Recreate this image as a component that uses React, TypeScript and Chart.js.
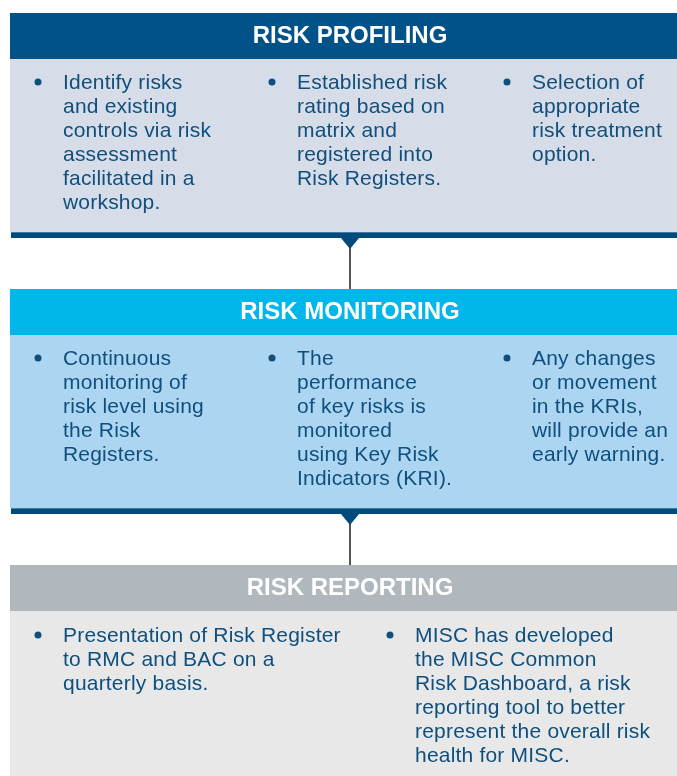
import React, { useEffect, useRef } from "react";
import { Chart, registerables } from "chart.js";

Chart.register(...registerables);

// ---- content ----
const stageTitles = ["RISK PROFILING", "RISK MONITORING", "RISK REPORTING"];

const profilingBullets = [
  ["Identify risks", "and existing", "controls via risk", "assessment", "facilitated in a", "workshop."],
  ["Established risk", "rating based on", "matrix and", "registered into", "Risk Registers."],
  ["Selection of", "appropriate", "risk treatment", "option."],
];
const monitoringBullets = [
  ["Continuous", "monitoring of", "risk level using", "the Risk", "Registers."],
  ["The", "performance", "of key risks is", "monitored", "using Key Risk", "Indicators (KRI)."],
  ["Any changes", "or movement", "in the KRIs,", "will provide an", "early warning."],
];
const reportingBullets = [
  ["Presentation of Risk Register", "to RMC and BAC on a", "quarterly basis."],
  ["MISC has developed", "the MISC Common", "Risk Dashboard, a risk", "reporting tool to better", "represent the overall risk", "health for MISC."],
];
const stageBullets = [profilingBullets, monitoringBullets, reportingBullets];

// ---- layout (coordinates in scale units) ----
const W = 677;
const H = 776;
const boxLeft = 10;
const stageTops = [13, 289, 565];
const headerH = 46;
const bodyBottoms = [232, 508, 776];
const hasBottomBar = [true, true, false];
const bulletCols = [
  [38, 272, 507],
  [38, 272, 507],
  [38, 390],
];
const firstBaseline = [89, 365, 642];
const linePitch = 24;
const textIndent = 25;

const headerColors = ["#005288", "#00b6eb", "#b0b8bd"];
const bodyColors = ["#d6dde8", "#acd5f1", "#e8e8e8"];
const barColor = "#004b7c";
const textColor = "#0f4f7d";

const diagramPlugin = {
  id: "diagram",
  afterDraw(chart: any) {
    const ctx = chart.ctx as CanvasRenderingContext2D;
    const xs = chart.scales.x;
    const ys = chart.scales.y;
    const px = (v: number) => xs.getPixelForValue(v);
    const py = (v: number) => ys.getPixelForValue(v);
    ctx.save();
    stageTitles.forEach((title, i) => {
      const top = stageTops[i];
      const hb = top + headerH;
      const bottom = bodyBottoms[i];
      // body
      ctx.fillStyle = bodyColors[i];
      ctx.fillRect(px(boxLeft), py(hb), px(W) - px(boxLeft), py(bottom) - py(hb));
      // header
      ctx.fillStyle = headerColors[i];
      ctx.fillRect(px(boxLeft), py(top), px(W) - px(boxLeft), py(hb) - py(top));
      // header title
      ctx.fillStyle = "#ffffff";
      ctx.font = "bold 24px 'Liberation Sans', Arial, sans-serif";
      (ctx as any).letterSpacing = "0px";
      ctx.textAlign = "center";
      ctx.textBaseline = "alphabetic";
      ctx.fillText(title, px(350), py(top + 30));
      // bottom bar + connector
      if (hasBottomBar[i]) {
        ctx.fillStyle = barColor;
        ctx.fillRect(px(boxLeft + 1), py(bottom), px(W) - px(boxLeft + 1), py(bottom + 6) - py(bottom));
        ctx.fillStyle = "#3f7aa3";
        ctx.fillRect(px(boxLeft + 1), py(bottom), px(W) - px(boxLeft + 1), 1);
        // connector line
        const nextTop = stageTops[i + 1];
        ctx.strokeStyle = "#555555";
        ctx.lineWidth = 2;
        ctx.beginPath();
        ctx.moveTo(px(350), py(bottom + 6));
        ctx.lineTo(px(350), py(nextTop));
        ctx.stroke();
        // arrow head
        ctx.fillStyle = barColor;
        ctx.beginPath();
        ctx.moveTo(px(341), py(bottom + 6));
        ctx.lineTo(px(359), py(bottom + 6));
        ctx.lineTo(px(350), py(bottom + 17));
        ctx.closePath();
        ctx.fill();
      }
      // bullets
      ctx.textAlign = "left";
      ctx.font = "21px 'Liberation Sans', Arial, sans-serif";
      (ctx as any).letterSpacing = "0.2px";
      stageBullets[i].forEach((lines, c) => {
        const bx = bulletCols[i][c];
        const base = firstBaseline[i];
        ctx.fillStyle = textColor;
        ctx.beginPath();
        ctx.arc(px(bx), py(base - 7), 3.5, 0, Math.PI * 2);
        ctx.fill();
        lines.forEach((ln, k) => {
          ctx.fillText(ln, px(bx + textIndent), py(base + k * linePitch));
        });
      });
    });
    ctx.restore();
  },
};

export default function App() {
  const ref = useRef<HTMLCanvasElement>(null);
  useEffect(() => {
    if (!ref.current) return;
    const chart = new Chart(ref.current, {
      type: "scatter",
      data: { datasets: [] },
      options: {
        animation: false,
        responsive: false,
        devicePixelRatio: 1,
        layout: { padding: 0 },
        plugins: { legend: { display: false }, tooltip: { enabled: false } },
        scales: {
          x: { type: "linear", min: 0, max: W, display: false },
          y: { type: "linear", min: 0, max: H, reverse: true, display: false },
        },
      },
      plugins: [diagramPlugin],
    });
    return () => chart.destroy();
  }, []);
  return (
    <div style={{ position: "absolute", left: 0, top: 0, width: W, height: H, background: "#ffffff" }}>
      <canvas ref={ref} width={W} height={H} style={{ width: W, height: H, display: "block" }} />
    </div>
  );
}
